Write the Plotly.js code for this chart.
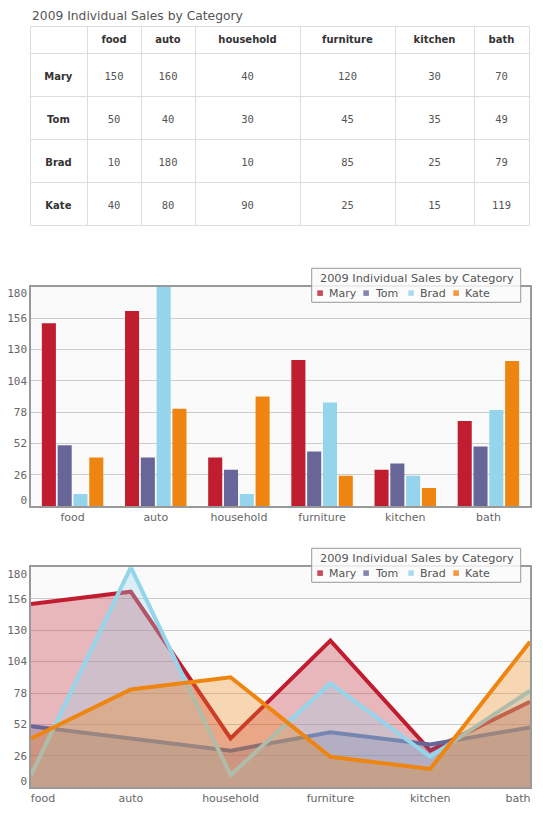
<!DOCTYPE html>
<html><head><meta charset="utf-8">
<script src="https://cdn.plot.ly/plotly-3.0.1.min.js"></script>
<style>html,body{margin:0;padding:0;background:#fff}</style>
</head><body><div id="chart" style="width:543px;height:815px"></div>
<script>
const chartTitle = "2009 Individual Sales by Category";
const categories = ["food", "auto", "household", "furniture", "kitchen", "bath"];
const seriesNames = ["Mary", "Tom", "Brad", "Kate"];
const mary = [150, 160, 40, 120, 30, 70];
const tom = [50, 40, 30, 45, 35, 49];
const brad = [10, 180, 10, 85, 25, 79];
const kate = [40, 80, 90, 25, 15, 119];
const yTickLabels = ["0", "26", "52", "78", "104", "130", "156", "180"];
const yMax = 180;

const series = [mary, tom, brad, kate];
const rgb = [[193, 29, 48], [104, 102, 153], [148, 213, 235], [239, 133, 17]];
const col = (c, a) => a === undefined ? `rgb(${c[0]},${c[1]},${c[2]})` : `rgba(${c[0]},${c[1]},${c[2]},${a})`;

const W = 543, H = 815;
const px = x => x / W, py = y => 1 - y / H;
const SANS = "DejaVu Sans", MONO = "DejaVu Sans Mono";

// vertical centering helper for table cell text: a tiny spacer line above the visible text
const cellText = (t, size, bold) => "<span style='font-size:1px'>&nbsp;</span><br>" +
  `<span style='font-size:${size}px'>` + (bold ? "<b>" + t + "</b>" : t) + "</span>";

const traces = [];

// Table
traces.push({
  type: "table",
  domain: {x: [px(30), px(529)], y: [py(226.5), py(26)]},
  columnwidth: [57, 54, 54, 105, 95, 79, 55],
  header: {
    values: [""].concat(categories.map(c => "<b>" + c + "</b>")),
    align: "center", height: 24,
    line: {color: "#dddddd", width: 1}, fill: {color: "#ffffff"},
    font: {family: SANS, size: 10, color: "#333333"}
  },
  cells: {
    values: [seriesNames.map(n => cellText(n, 10, true))]
      .concat(categories.map((c, j) => series.map(s => cellText(String(s[j]), 10.5, false)))),
    align: "center", height: 43,
    line: {color: "#dddddd", width: 1}, fill: {color: "#ffffff"},
    font: {
      family: [SANS].concat(categories.map(() => MONO)),
      size: 13.5,
      color: ["#333333"].concat(categories.map(() => "#555555"))
    }
  }
});

// Bars
series.forEach((s, i) => traces.push({
  type: "bar", x: categories, y: s, name: seriesNames[i],
  xaxis: "x", yaxis: "y", showlegend: false,
  marker: {color: col(rgb[i]), line: {width: 0}},
  hoverinfo: "x+y+name"
}));

// Areas
series.forEach((s, i) => traces.push({
  type: "scatter", mode: "lines", x: categories, y: s, name: seriesNames[i],
  xaxis: "x2", yaxis: "y2", showlegend: false,
  fill: "tozeroy", fillcolor: col(rgb[i], 0.3),
  line: {color: col(rgb[i]), width: 4}
}));

// gridlines at evenly spaced values; edge labels nudged inward like the original
const nT = yTickLabels.length - 1;
const gridVals = yTickLabels.map((_, k) => yMax * k / nT);
const labelVals = gridVals.map((v, k) => k === 0 ? v + 5.3 : (k === nT ? v - 5.3 : v));

const xax = (dom, anchor) => ({
  domain: dom, anchor: anchor, showline: true, mirror: true, linecolor: "#999999", linewidth: 1.5,
  ticks: "", showgrid: false, zeroline: false, fixedrange: true,
  tickfont: {family: SANS, size: 11, color: "#666666"}
});
const yax = (dom, anchor) => ({
  domain: dom, anchor: anchor, range: [0, yMax],
  tickmode: "array", tickvals: labelVals, ticktext: yTickLabels,
  showgrid: false,
  minor: {tickmode: "array", tickvals: gridVals, showgrid: true, gridcolor: "#cccccc", gridwidth: 1, ticks: ""},
  showline: true, mirror: true, linecolor: "#999999", linewidth: 1.5,
  zeroline: false, ticks: "", fixedrange: true,
  tickfont: {family: MONO, size: 11, color: "#666666"}
});

// area chart x labels: first/last pulled inside the plot like the original
const nC = categories.length - 1;
const areaTickVals = categories.map((_, k) => k === 0 ? k + 0.12 : (k === nC ? k - 0.12 : k));

// Manual compact legends
const shapes = [], annotations = [];
annotations.push({
  xref: "paper", yref: "paper", x: px(30), y: py(16), xanchor: "left", yanchor: "middle",
  text: chartTitle, showarrow: false, font: {family: SANS, size: 12.3, color: "#555555"}
});
const itemOffsets = [0, 46, 91, 136];
[0, 280].forEach(dy => {
  shapes.push({type: "rect", xref: "paper", yref: "paper",
    x0: px(311.7), x1: px(520.7), y0: py(268.3 + dy), y1: py(302.3 + dy),
    fillcolor: "rgba(250,250,250,0.85)", line: {color: "#999999", width: 1}, layer: "above"});
  annotations.push({xref: "paper", yref: "paper", x: px(317.5), y: py(278.5 + dy),
    xanchor: "left", yanchor: "middle", showarrow: false, text: chartTitle,
    font: {family: SANS, size: 11.3, color: "#555555"}});
  seriesNames.forEach((n, i) => {
    const sx = 317.3 + itemOffsets[i];
    shapes.push({type: "rect", xref: "paper", yref: "paper",
      x0: px(sx), x1: px(sx + 5.6), y0: py(290.3 + dy), y1: py(295.9 + dy),
      fillcolor: col(rgb[i], 0.8), line: {width: 0}, layer: "above"});
    annotations.push({xref: "paper", yref: "paper", x: px(sx + 9.5), y: py(293.6 + dy),
      xanchor: "left", yanchor: "middle", showarrow: false, text: n,
      font: {family: SANS, size: 11, color: "#555555"}});
  });
});

const layout = {
  width: W, height: H, margin: {l: 0, r: 0, t: 0, b: 0},
  paper_bgcolor: "#ffffff", plot_bgcolor: "#fafafa",
  showlegend: false, barmode: "group", bargap: 0.24, bargroupgap: 0.11,
  xaxis: xax([px(31), px(530)], "y"),
  yaxis: yax([py(506.3), py(286.7)], "x"),
  xaxis2: Object.assign(xax([px(31), px(530)], "y2"), {
    type: "category", range: [0, nC], tickmode: "array", tickvals: areaTickVals, ticktext: categories}),
  yaxis2: yax([py(787.3), py(567.3)], "x2"),
  shapes: shapes, annotations: annotations
};

Plotly.newPlot("chart", traces, layout, {displayModeBar: false});
</script></body></html>
